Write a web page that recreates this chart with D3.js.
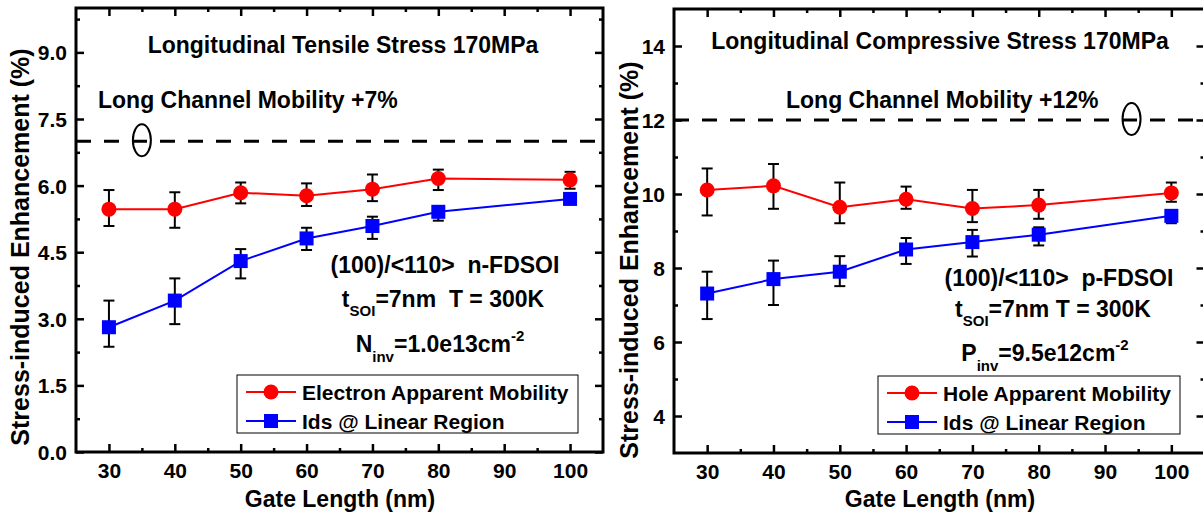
<!DOCTYPE html>
<html>
<head>
<meta charset="utf-8">
<script src="https://cdn.jsdelivr.net/npm/d3@7/dist/d3.min.js"></script>
<style>
  html, body { margin: 0; padding: 0; background: #fff; }
  svg text { font-family: "Liberation Sans", Arial, sans-serif; font-weight: bold; fill: #000; }
</style>
</head>
<body>
<svg id="chart" width="1203" height="516"></svg>
<script>
// Gate lengths shared by both panels (nm)
const gateLengths = [30, 40, 50, 60, 70, 80, 100];

// n-FDSOI, longitudinal tensile stress
const nMobility   = [5.47, 5.47, 5.84, 5.77, 5.92, 6.16, 6.13];
const nMobilityLo = [5.09, 5.05, 5.60, 5.54, 5.65, 5.90, 5.93];
const nMobilityHi = [5.90, 5.85, 6.07, 6.05, 6.25, 6.36, 6.31];
const nIds        = [2.81, 3.41, 4.30, 4.81, 5.09, 5.41, 5.70];
const nIdsLo      = [2.37, 2.88, 3.91, 4.55, 4.80, 5.21, 5.60];
const nIdsHi      = [3.41, 3.91, 4.57, 5.05, 5.30, 5.53, 5.80];
const nLongChannel = 7;

// p-FDSOI, longitudinal compressive stress
const pMobility   = [10.11, 10.22, 9.64, 9.86, 9.61, 9.70, 10.03];
const pMobilityLo = [9.42, 9.60, 9.21, 9.60, 9.24, 9.33, 9.79];
const pMobilityHi = [10.69, 10.81, 10.31, 10.20, 10.11, 10.11, 10.31];
const pIds        = [7.31, 7.70, 7.90, 8.50, 8.70, 8.90, 9.41];
const pIdsLo      = [6.62, 7.00, 7.51, 8.11, 8.31, 8.61, 9.21];
const pIdsHi      = [7.90, 8.20, 8.32, 8.81, 9.03, 9.10, 9.50];
const pLongChannel = 12;

// Axis ticks
const xTicks = [30, 40, 50, 60, 70, 80, 90, 100];
const xMinorTicks = [35, 45, 55, 65, 75, 85, 95];
const nYTicks = [0, 1.5, 3, 4.5, 6, 7.5, 9];
const nYMinorTicks = [0.75, 2.25, 3.75, 5.25, 6.75, 8.25, 9.75];
const pYTicks = [4, 6, 8, 10, 12, 14];
const pYMinorTicks = [5, 7, 9, 11, 13];

const RED = "#ff0000", BLUE = "#0000ff";
const svg = d3.select("#chart");

function drawPanel(cfg) {
  const x = d3.scaleLinear().domain([25, 105]).range([cfg.left, cfg.right]);
  const y = d3.scaleLinear().domain(cfg.yDomain).range([cfg.bottom, cfg.top]);
  const g = svg.append("g");

  // minor + major ticks on all four sides, pointing inward
  const addAxis = (axisFn, scale, vals, size, transform, labels, fmt) => {
    const a = axisFn(scale).tickValues(vals).tickSizeInner(-size).tickSizeOuter(0)
      .tickPadding(0)
      .tickFormat(labels ? fmt : "");
    const ag = g.append("g").attr("transform", transform).call(a);
    ag.select(".domain").remove();
    ag.selectAll(".tick line").attr("stroke", "#000").attr("stroke-width", 2.5);
    ag.selectAll("text").style("font-size", "21px").attr("font-family", null);
    return ag;
  };
  const fmt = cfg.yFormat;
  addAxis(d3.axisBottom, x, xMinorTicks, 4, `translate(0,${cfg.bottom})`, false);
  addAxis(d3.axisTop, x, xMinorTicks, 4, `translate(0,${cfg.top})`, false);
  addAxis(d3.axisLeft, y, cfg.yMinor, 4, `translate(${cfg.left},0)`, false);
  addAxis(d3.axisRight, y, cfg.yMinor, 4, `translate(${cfg.right},0)`, false);
  const bx = addAxis(d3.axisBottom, x, xTicks, 8, `translate(0,${cfg.bottom})`, true, d3.format("d"));
  bx.selectAll("text").attr("y", 26).attr("dy", 0);
  addAxis(d3.axisTop, x, xTicks, 8, `translate(0,${cfg.top})`, false);
  const ly = addAxis(d3.axisLeft, y, cfg.yTicks, 8, `translate(${cfg.left},0)`, true, fmt);
  ly.selectAll("text").attr("x", -9).attr("dy", "0.36em");
  addAxis(d3.axisRight, y, cfg.yTicks, 8, `translate(${cfg.right},0)`, false);

  // frame
  g.append("rect")
    .attr("x", cfg.left).attr("y", cfg.top)
    .attr("width", cfg.right - cfg.left).attr("height", cfg.bottom - cfg.top)
    .attr("fill", "none").attr("stroke", "#000").attr("stroke-width", 3);

  // long channel reference line
  g.append("line")
    .attr("x1", cfg.left).attr("x2", cfg.right)
    .attr("y1", y(cfg.longChannel)).attr("y2", y(cfg.longChannel))
    .attr("stroke", "#000").attr("stroke-width", 3).attr("stroke-dasharray", "15,13");
  g.append("ellipse")
    .attr("cx", x(cfg.ellipseX)).attr("cy", y(cfg.longChannel) - 1)
    .attr("rx", 9).attr("ry", 16)
    .attr("fill", "none").attr("stroke", "#000").attr("stroke-width", 2);

  // series
  const line = d3.line().x((d, i) => x(gateLengths[i])).y(d => y(d));
  cfg.series.forEach(s => {
    g.append("path").datum(s.values)
      .attr("d", line).attr("fill", "none").attr("stroke", s.color).attr("stroke-width", 2);
  });
  cfg.series.forEach(s => {
    const eb = g.append("g").attr("stroke", "#000").attr("stroke-width", 2);
    s.values.forEach((v, i) => {
      const cx = x(gateLengths[i]);
      eb.append("line").attr("x1", cx).attr("x2", cx).attr("y1", y(s.lo[i])).attr("y2", y(s.hi[i]));
      eb.append("line").attr("x1", cx - 5.5).attr("x2", cx + 5.5).attr("y1", y(s.lo[i])).attr("y2", y(s.lo[i]));
      eb.append("line").attr("x1", cx - 5.5).attr("x2", cx + 5.5).attr("y1", y(s.hi[i])).attr("y2", y(s.hi[i]));
    });
  });
  cfg.series.forEach(s => {
    s.values.forEach((v, i) => drawMarker(g, s.shape, x(gateLengths[i]), y(v), s.color));
  });

  // titles and annotations
  const txt = (t, xx, yy, size, anchor) => g.append("text")
    .attr("x", xx).attr("y", yy).attr("text-anchor", anchor || "middle")
    .style("font-size", size + "px").text(t);
  txt(cfg.title, cfg.titleX, cfg.titleY, 23);
  txt(cfg.longLabel, cfg.longX, 108, 23, "start");

  const a1 = txt(cfg.orient, cfg.annoX[0], cfg.annoY[0], 23);
  a1.attr("xml:space", "preserve");
  const a2 = g.append("text").attr("x", cfg.annoX[1]).attr("y", cfg.annoY[1])
    .attr("text-anchor", "middle").attr("xml:space", "preserve").style("font-size", "23px");
  a2.append("tspan").text("t");
  a2.append("tspan").attr("dy", 9).style("font-size", "15px").text("SOI");
  a2.append("tspan").attr("dy", -9).text(cfg.tempText);
  const a3 = g.append("text").attr("x", cfg.annoX[2]).attr("y", cfg.annoY[2])
    .attr("text-anchor", "middle").style("font-size", "23px");
  a3.append("tspan").text(cfg.carrier[0]);
  a3.append("tspan").attr("dy", 10).style("font-size", "15px").text(cfg.carrier[1]);
  a3.append("tspan").attr("dy", -10).text(cfg.carrier[2]);
  a3.append("tspan").attr("dy", -11).style("font-size", "15px").text(cfg.carrier[3]);

  // axis titles
  txt("Gate Length (nm)", cfg.xLabelX, 507, 23);
  g.append("text")
    .attr("transform", `translate(${cfg.yLabelX},${cfg.yLabelY}) rotate(-90)`)
    .attr("text-anchor", "middle").style("font-size", "25px")
    .text("Stress-induced Enhancement (%)");

  // legend
  const lg = g.append("g");
  lg.append("rect")
    .attr("x", cfg.legend.x).attr("y", cfg.legend.y)
    .attr("width", cfg.legend.w).attr("height", 58)
    .attr("fill", "#fff").attr("stroke", "#000").attr("stroke-width", 1);
  cfg.series.forEach((s, k) => {
    const ly0 = cfg.legend.y + 17 + k * 29;
    const lx0 = cfg.legend.x + 9;
    lg.append("line").attr("x1", lx0).attr("x2", lx0 + 50).attr("y1", ly0).attr("y2", ly0)
      .attr("stroke", s.color).attr("stroke-width", 2);
    drawMarker(lg, s.shape, lx0 + 25, ly0, s.color);
    lg.append("text").attr("x", lx0 + 56).attr("y", ly0 + 7.5)
      .style("font-size", "21px").text(s.name);
  });
}

function drawMarker(g, shape, cx, cy, color) {
  if (shape === "circle") {
    g.append("circle").attr("cx", cx).attr("cy", cy).attr("r", 7.5).attr("fill", color);
  } else {
    g.append("rect").attr("x", cx - 7).attr("y", cy - 7).attr("width", 14).attr("height", 14).attr("fill", color);
  }
}

drawPanel({
  left: 76, right: 603, top: 8, bottom: 452,
  yDomain: [0, 10], yTicks: nYTicks, yMinor: nYMinorTicks, yFormat: d3.format(".1f"),
  longChannel: nLongChannel, ellipseX: 35,
  title: "Longitudinal Tensile Stress 170MPa", titleX: 343, titleY: 53,
  longLabel: "Long Channel Mobility +7%", longX: 98,
  orient: "(100)/<110>  n-FDSOI", tempText: "=7nm  T = 300K",
  carrier: ["N", "inv", "=1.0e13cm", "-2"],
  annoX: [445, 443, 440], annoY: [273, 307, 352],
  xLabelX: 340, yLabelX: 29, yLabelY: 247,
  legend: { x: 237, y: 375, w: 341 },
  series: [
    { name: "Electron Apparent Mobility", values: nMobility, lo: nMobilityLo, hi: nMobilityHi, color: RED, shape: "circle" },
    { name: "Ids @ Linear Region", values: nIds, lo: nIdsLo, hi: nIdsHi, color: BLUE, shape: "square" }
  ]
});

drawPanel({
  left: 674, right: 1204.5, top: 9, bottom: 453,
  yDomain: [3, 15], yTicks: pYTicks, yMinor: pYMinorTicks, yFormat: d3.format("d"),
  longChannel: pLongChannel, ellipseX: 94,
  title: "Longitudinal Compressive Stress 170MPa", titleX: 940, titleY: 49,
  longLabel: "Long Channel Mobility +12%", longX: 786,
  orient: "(100)/<110>  p-FDSOI", tempText: "=7nm T = 300K",
  carrier: ["P", "inv", "=9.5e12cm", "-2"],
  annoX: [1059, 1053, 1045], annoY: [286, 317, 361],
  xLabelX: 940, yLabelX: 638, yLabelY: 260,
  legend: { x: 878, y: 376, w: 302 },
  series: [
    { name: "Hole Apparent Mobility", values: pMobility, lo: pMobilityLo, hi: pMobilityHi, color: RED, shape: "circle" },
    { name: "Ids @ Linear Region", values: pIds, lo: pIdsLo, hi: pIdsHi, color: BLUE, shape: "square" }
  ]
});
</script>
</body>
</html>
